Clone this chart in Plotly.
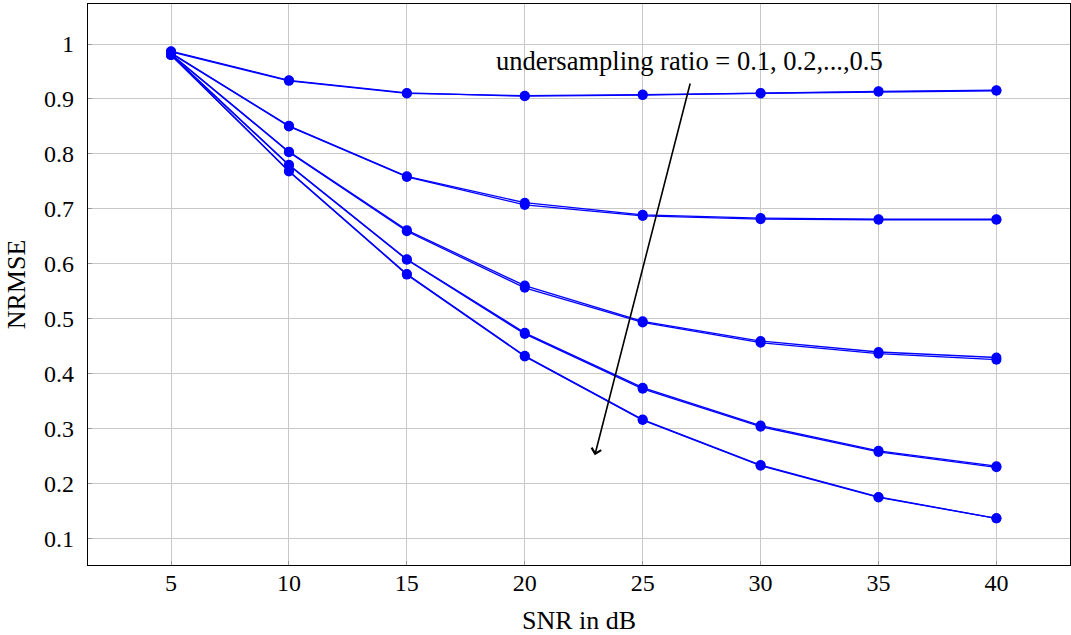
import plotly.graph_objects as go

snr = [5, 10, 15, 20, 25, 30, 35, 40]

# NRMSE per undersampling ratio (two close curves per ratio)
r01_a = [0.987, 0.934, 0.911, 0.905, 0.907, 0.911, 0.914, 0.916]
r01_b = [0.986, 0.933, 0.910, 0.906, 0.908, 0.910, 0.913, 0.915]
r02_a = [0.984, 0.851, 0.759, 0.711, 0.689, 0.683, 0.681, 0.681]
r02_b = [0.983, 0.850, 0.758, 0.707, 0.687, 0.681, 0.680, 0.680]
r03_a = [0.982, 0.804, 0.661, 0.560, 0.495, 0.459, 0.439, 0.429]
r03_b = [0.981, 0.803, 0.659, 0.556, 0.493, 0.456, 0.436, 0.425]
r04_a = [0.981, 0.780, 0.608, 0.474, 0.374, 0.305, 0.259, 0.231]
r04_b = [0.980, 0.779, 0.607, 0.472, 0.372, 0.303, 0.257, 0.229]
r05_a = [0.980, 0.769, 0.581, 0.432, 0.316, 0.233, 0.175, 0.136]
r05_b = [0.980, 0.768, 0.580, 0.431, 0.315, 0.232, 0.174, 0.136]

series = [r01_a, r01_b, r02_a, r02_b, r03_a, r03_b, r04_a, r04_b, r05_a, r05_b]

x_ticks = [5, 10, 15, 20, 25, 30, 35, 40]
y_ticks = [0.1, 0.2, 0.3, 0.4, 0.5, 0.6, 0.7, 0.8, 0.9, 1.0]
y_tick_text = ["0.1", "0.2", "0.3", "0.4", "0.5", "0.6", "0.7", "0.8", "0.9", "1"]

annot_text = "undersampling ratio = 0.1, 0.2,...,0.5"

FONT = "Liberation Serif"

fig = go.Figure()
for s in series:
    fig.add_trace(go.Scatter(
        x=snr, y=s, mode="lines+markers",
        line=dict(color="#0000ff", width=1.3),
        marker=dict(color="#0000ff", size=10, symbol="circle"),
        showlegend=False,
    ))

fig.add_annotation(
    x=27.0, y=0.969, xref="x", yref="y", text=annot_text, showarrow=False,
    font=dict(family=FONT, size=26.5, color="black"),
)
fig.add_annotation(
    x=22.97, y=0.251, ax=27.03, ay=0.931, xref="x", yref="y", axref="x", ayref="y",
    text="", showarrow=True, arrowhead=4, arrowsize=1.2, arrowwidth=1.6, arrowcolor="black",
)

fig.update_layout(
    width=1071, height=635,
    margin=dict(l=88, r=1, t=4, b=70),
    paper_bgcolor="white", plot_bgcolor="white",
    font=dict(family=FONT, size=24, color="black"),
    xaxis=dict(
        range=[1.48, 43.12], tickvals=x_ticks, ticktext=[str(v) for v in x_ticks],
        tickfont=dict(family=FONT, size=24),
        showgrid=True, gridcolor="#c8c8c8", gridwidth=1,
        showline=True, linecolor="black", linewidth=1.2, mirror=True,
        ticks="inside", ticklen=4, tickcolor="#999999", zeroline=False,
        ticklabelstandoff=-4,
        title=dict(text="SNR in dB", font=dict(family=FONT, size=26), standoff=20),
    ),
    yaxis=dict(
        range=[0.051, 1.073], tickvals=y_ticks, ticktext=y_tick_text,
        tickfont=dict(family=FONT, size=24),
        showgrid=True, gridcolor="#c8c8c8", gridwidth=1,
        showline=True, linecolor="black", linewidth=1.2, mirror=True,
        ticks="inside", ticklen=4, tickcolor="#999999", zeroline=False,
        ticklabelstandoff=8,
        title=dict(text="NRMSE", font=dict(family=FONT, size=26), standoff=10),
    ),
)

fig.write_html("out.html", config={"displayModeBar": False},
               post_script="document.body.style.margin='0';")
